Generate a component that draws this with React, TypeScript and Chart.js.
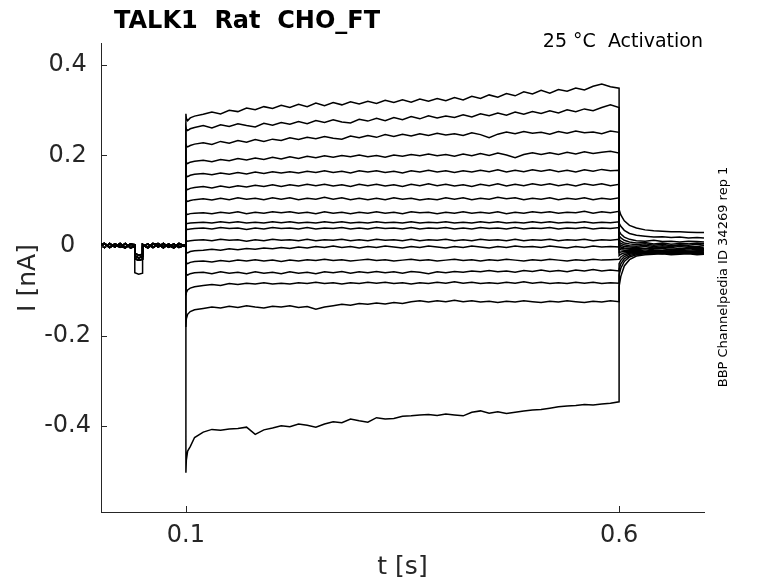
import { useEffect, useRef } from 'react';
import { Chart, registerables } from 'chart.js';

Chart.register(...registerables);

// ---- axis ticks ----
const xTickValues = [0.1, 0.6];
const xTickLabels = ['0.1', '0.6'];
const yTickValues = [-0.4, -0.2, 0, 0.2, 0.4];
const yTickLabels = ['-0.4', '-0.2', '0', '0.2', '0.4'];

// ---- time bases (s) ----
const preTimes = [0, 0.006, 0.012, 0.018, 0.024, 0.03, 0.036, 0.041, 0.041, 0.0455, 0.05, 0.05, 0.056, 0.062, 0.068, 0.074, 0.08, 0.086, 0.092, 0.1];
const stepTimes = [0.1, 0.1005, 0.102, 0.105, 0.11,
  0.12, 0.13, 0.14, 0.15, 0.16, 0.17, 0.18, 0.19, 0.2, 0.21,
  0.22, 0.23, 0.24, 0.25, 0.26, 0.27, 0.28, 0.29, 0.3, 0.31,
  0.32, 0.33, 0.34, 0.35, 0.36, 0.37, 0.38, 0.39, 0.4, 0.41,
  0.42, 0.43, 0.44, 0.45, 0.46, 0.47, 0.48, 0.49, 0.5, 0.51,
  0.52, 0.53, 0.54, 0.55, 0.56, 0.57, 0.58, 0.59, 0.6];
const tailTimes = [0.6, 0.602, 0.606, 0.612, 0.62, 0.63, 0.64, 0.65, 0.66, 0.67, 0.68, 0.69, 0.698];

// ---- holding period currents (nA), incl. test pulse ----
const preA = [0.004, -0.004, 0.005, -0.003, 0.005, -0.004, 0.003, 0.002, -0.022, -0.027, -0.024, 0.003, -0.004, 0.005, -0.003, 0.005, -0.003, 0.004, -0.004, 0.002];
const preB = [-0.003, 0.004, -0.004, 0.003, -0.003, 0.005, -0.005, -0.002, -0.029, -0.032, -0.03, -0.003, 0.004, -0.004, 0.003, -0.005, 0.004, -0.003, 0.005, -0.002];
const preC = [0.002, 0.005, -0.003, 0.004, -0.001, -0.005, 0.004, 0.0, -0.017, -0.021, -0.019, 0.002, -0.005, 0.003, 0.005, -0.002, 0.001, -0.005, 0.003, 0.0];
const preD = [0.0, -0.003, 0.003, 0.001, -0.004, 0.003, -0.001, -0.002, -0.06, -0.063, -0.061, -0.001, 0.003, -0.003, 0.001, 0.003, -0.004, 0.002, -0.001, -0.002];

// ---- step currents (nA) ----
const step1 = [0.292, 0.282, 0.277, 0.283, 0.287,
  0.291, 0.296, 0.292, 0.3, 0.297, 0.305, 0.301, 0.308, 0.304, 0.311,
  0.306, 0.313, 0.308, 0.316, 0.31, 0.317, 0.312, 0.319, 0.314, 0.32,
  0.315, 0.322, 0.317, 0.323, 0.318, 0.325, 0.32, 0.326, 0.321, 0.328,
  0.323, 0.331, 0.326, 0.334, 0.329, 0.337, 0.332, 0.341, 0.336, 0.344,
  0.338, 0.346, 0.342, 0.349, 0.345, 0.353, 0.358, 0.352, 0.349];
const step2 = [0.262, 0.258, 0.255, 0.259, 0.262,
  0.266, 0.261, 0.268, 0.264, 0.27, 0.266, 0.263, 0.271, 0.267, 0.273,
  0.269, 0.275, 0.27, 0.277, 0.273, 0.279, 0.274, 0.272, 0.28, 0.276,
  0.282, 0.277, 0.284, 0.279, 0.286, 0.281, 0.288, 0.283, 0.287, 0.284,
  0.29, 0.285, 0.292, 0.288, 0.294, 0.289, 0.296, 0.291, 0.297, 0.293,
  0.299, 0.294, 0.301, 0.297, 0.303, 0.299, 0.306, 0.312, 0.306];
const step3 = [0.226, 0.221, 0.219, 0.222, 0.225,
  0.228, 0.224, 0.231, 0.227, 0.233, 0.229, 0.235, 0.231, 0.236, 0.233,
  0.239, 0.235, 0.24, 0.237, 0.242, 0.238, 0.236, 0.243, 0.239, 0.244,
  0.24, 0.246, 0.242, 0.247, 0.243, 0.248, 0.244, 0.249, 0.245, 0.248,
  0.244, 0.25, 0.246, 0.239, 0.247, 0.252, 0.248, 0.253, 0.249, 0.251,
  0.247, 0.253, 0.249, 0.254, 0.25, 0.252, 0.248, 0.254, 0.251];
const step4 = [0.188, 0.184, 0.182, 0.185, 0.187,
  0.189, 0.186, 0.191, 0.188, 0.193, 0.19, 0.194, 0.191, 0.196, 0.192,
  0.197, 0.193, 0.198, 0.195, 0.199, 0.196, 0.2, 0.197, 0.201, 0.197,
  0.2, 0.196, 0.201, 0.198, 0.202, 0.199, 0.203, 0.199, 0.202, 0.198,
  0.203, 0.199, 0.204, 0.2, 0.205, 0.201, 0.195, 0.202, 0.206, 0.202,
  0.206, 0.202, 0.207, 0.203, 0.208, 0.204, 0.207, 0.209, 0.205];
const step5 = [0.159, 0.155, 0.153, 0.156, 0.158,
  0.16, 0.157, 0.161, 0.158, 0.162, 0.159, 0.163, 0.16, 0.164, 0.161,
  0.164, 0.161, 0.165, 0.162, 0.166, 0.162, 0.165, 0.161, 0.166, 0.163,
  0.166, 0.162, 0.165, 0.161, 0.166, 0.163, 0.167, 0.163, 0.166, 0.162,
  0.166, 0.163, 0.167, 0.164, 0.168, 0.163, 0.167, 0.164, 0.168, 0.165,
  0.168, 0.164, 0.167, 0.163, 0.168, 0.165, 0.169, 0.166, 0.167];
const step6 = [0.13, 0.126, 0.124, 0.127, 0.129,
  0.131, 0.128, 0.132, 0.129, 0.133, 0.13, 0.134, 0.131, 0.135, 0.131,
  0.135, 0.132, 0.136, 0.133, 0.136, 0.132, 0.135, 0.131, 0.136, 0.133,
  0.136, 0.132, 0.135, 0.131, 0.136, 0.133, 0.137, 0.133, 0.136, 0.132,
  0.135, 0.131, 0.136, 0.133, 0.137, 0.132, 0.136, 0.133, 0.137, 0.134,
  0.137, 0.133, 0.136, 0.132, 0.137, 0.134, 0.137, 0.133, 0.136];
const step7 = [0.103, 0.1, 0.098, 0.1, 0.102,
  0.104, 0.101, 0.105, 0.102, 0.106, 0.103, 0.105, 0.102, 0.106, 0.103,
  0.106, 0.102, 0.105, 0.103, 0.107, 0.103, 0.106, 0.102, 0.105, 0.102,
  0.105, 0.102, 0.106, 0.103, 0.105, 0.101, 0.104, 0.102, 0.106, 0.103,
  0.106, 0.102, 0.105, 0.103, 0.107, 0.104, 0.106, 0.102, 0.105, 0.103,
  0.106, 0.102, 0.105, 0.103, 0.106, 0.102, 0.105, 0.103, 0.106];
const step8 = [0.074, 0.071, 0.069, 0.071, 0.072,
  0.073, 0.071, 0.074, 0.072, 0.075, 0.071, 0.074, 0.072, 0.075, 0.073,
  0.075, 0.072, 0.074, 0.071, 0.075, 0.072, 0.074, 0.071, 0.074, 0.072,
  0.075, 0.072, 0.074, 0.071, 0.075, 0.073, 0.074, 0.071, 0.074, 0.072,
  0.075, 0.072, 0.074, 0.072, 0.075, 0.071, 0.074, 0.072, 0.075, 0.073,
  0.075, 0.072, 0.074, 0.073, 0.076, 0.072, 0.075, 0.073, 0.076];
const step9 = [0.053, 0.05, 0.049, 0.05, 0.051,
  0.052, 0.05, 0.053, 0.051, 0.053, 0.05, 0.052, 0.05, 0.053, 0.051,
  0.053, 0.05, 0.052, 0.05, 0.053, 0.051, 0.053, 0.05, 0.052, 0.05,
  0.053, 0.051, 0.052, 0.05, 0.053, 0.05, 0.052, 0.051, 0.053, 0.05,
  0.052, 0.05, 0.053, 0.051, 0.053, 0.05, 0.052, 0.05, 0.053, 0.051,
  0.053, 0.05, 0.052, 0.051, 0.053, 0.05, 0.052, 0.051, 0.053];
const step10 = [0.04, 0.037, 0.036, 0.037, 0.038,
  0.039, 0.037, 0.04, 0.038, 0.039, 0.036, 0.039, 0.037, 0.04, 0.038,
  0.039, 0.037, 0.04, 0.037, 0.039, 0.038, 0.04, 0.037, 0.039, 0.037,
  0.04, 0.038, 0.039, 0.037, 0.04, 0.037, 0.039, 0.038, 0.04, 0.037,
  0.039, 0.037, 0.04, 0.038, 0.039, 0.037, 0.04, 0.037, 0.039, 0.038,
  0.04, 0.037, 0.039, 0.038, 0.04, 0.037, 0.039, 0.038, 0.04];
const step11 = [0.014, 0.011, 0.01, 0.011, 0.012,
  0.013, 0.011, 0.014, 0.012, 0.013, 0.01, 0.013, 0.011, 0.014, 0.012,
  0.013, 0.011, 0.014, 0.011, 0.013, 0.012, 0.014, 0.011, 0.013, 0.011,
  0.014, 0.012, 0.013, 0.011, 0.014, 0.011, 0.013, 0.012, 0.014, 0.011,
  0.013, 0.011, 0.014, 0.012, 0.013, 0.011, 0.014, 0.011, 0.013, 0.012,
  0.014, 0.011, 0.013, 0.012, 0.014, 0.011, 0.013, 0.012, 0.014];
const step12 = [-0.01, -0.014, -0.016, -0.013, -0.011,
  -0.01, -0.008, -0.01, -0.007, -0.009, -0.006, -0.008, -0.005, -0.007, -0.004,
  -0.006, -0.003, -0.005, -0.002, -0.004, -0.001, -0.004, -0.002, -0.005, -0.002,
  -0.004, -0.001, -0.003, -0.005, -0.002, -0.004, -0.001, -0.003, -0.005, -0.002,
  -0.004, -0.001, -0.003, -0.005, -0.002, -0.004, -0.001, -0.003, -0.002, -0.004,
  -0.001, -0.003, -0.005, -0.002, -0.004, -0.001, -0.003, -0.002, -0.003];
const step13 = [-0.034, -0.038, -0.04, -0.037, -0.035,
  -0.034, -0.036, -0.033, -0.035, -0.032, -0.034, -0.031, -0.034, -0.032, -0.035,
  -0.032, -0.034, -0.031, -0.033, -0.03, -0.033, -0.031, -0.034, -0.032, -0.03,
  -0.033, -0.031, -0.034, -0.032, -0.03, -0.033, -0.031, -0.034, -0.032, -0.03,
  -0.033, -0.031, -0.034, -0.031, -0.033, -0.03, -0.032, -0.034, -0.031, -0.033,
  -0.03, -0.032, -0.034, -0.031, -0.033, -0.03, -0.032, -0.031, -0.03];
const step14 = [-0.058, -0.063, -0.065, -0.062, -0.06,
  -0.059, -0.062, -0.058, -0.061, -0.059, -0.062, -0.058, -0.061, -0.059, -0.062,
  -0.058, -0.061, -0.059, -0.062, -0.058, -0.06, -0.057, -0.061, -0.058, -0.06,
  -0.057, -0.06, -0.058, -0.061, -0.057, -0.059, -0.062, -0.058, -0.06, -0.057,
  -0.059, -0.056, -0.058, -0.055, -0.058, -0.056, -0.059, -0.055, -0.057, -0.054,
  -0.057, -0.055, -0.058, -0.054, -0.056, -0.053, -0.056, -0.054, -0.056];
const step15 = [-0.11, -0.104, -0.098, -0.094, -0.091,
  -0.088, -0.086, -0.088, -0.084, -0.086, -0.083, -0.085, -0.082, -0.085, -0.083,
  -0.085, -0.082, -0.084, -0.081, -0.084, -0.082, -0.085, -0.082, -0.084, -0.081,
  -0.083, -0.081, -0.084, -0.082, -0.085, -0.082, -0.084, -0.081, -0.083, -0.08,
  -0.083, -0.081, -0.084, -0.082, -0.084, -0.081, -0.083, -0.08, -0.083, -0.081,
  -0.084, -0.082, -0.084, -0.081, -0.083, -0.081, -0.084, -0.082, -0.083];
const step16 = [-0.18, -0.162, -0.152, -0.146, -0.142,
  -0.139, -0.136, -0.138, -0.134, -0.137, -0.133, -0.136, -0.138, -0.134, -0.136,
  -0.133, -0.137, -0.135, -0.141, -0.136, -0.133, -0.13, -0.132, -0.128, -0.13,
  -0.127, -0.129, -0.126, -0.128, -0.124, -0.122, -0.125, -0.122, -0.124, -0.121,
  -0.124, -0.122, -0.125, -0.123, -0.126, -0.123, -0.125, -0.122, -0.124, -0.126,
  -0.123, -0.125, -0.122, -0.124, -0.126, -0.123, -0.125, -0.122, -0.124];
const step17 = [-0.503, -0.475, -0.455, -0.445, -0.425,
  -0.413, -0.407, -0.409, -0.406, -0.405, -0.402, -0.418, -0.408, -0.404, -0.399,
  -0.401, -0.395, -0.398, -0.402, -0.395, -0.39, -0.392, -0.384, -0.388, -0.391,
  -0.381, -0.384, -0.383, -0.378, -0.377, -0.375, -0.374, -0.376, -0.373, -0.375,
  -0.377, -0.369, -0.366, -0.371, -0.368, -0.372, -0.369, -0.366, -0.364, -0.363,
  -0.36, -0.357, -0.355, -0.354, -0.352, -0.353, -0.351, -0.349, -0.346];

// ---- tail currents (nA) ----
const tail1 = [0.08, 0.068, 0.055, 0.045, 0.039, 0.035, 0.033, 0.032, 0.031, 0.031, 0.03, 0.029, 0.029];
const tail2 = [0.05, 0.043, 0.034, 0.027, 0.023, 0.021, 0.019, 0.02, 0.018, 0.019, 0.017, 0.018, 0.017];
const tail3 = [0.032, 0.026, 0.019, 0.014, 0.011, 0.01, 0.012, 0.009, 0.01, 0.008, 0.01, 0.009, 0.008];
const tail4 = [0.022, 0.017, 0.012, 0.008, 0.006, 0.007, 0.004, 0.006, 0.003, 0.005, 0.004, 0.006, 0.004];
const tail5 = [0.014, 0.01, 0.006, 0.004, 0.002, 0.004, 0.001, 0.003, 0.0, 0.002, 0.001, 0.003, 0.001];
const tail6 = [0.008, 0.005, 0.002, 0.0, -0.001, 0.001, -0.002, 0.0, -0.002, 0.001, -0.001, -0.002, 0.0];
const tail7 = [0.004, 0.001, -0.002, -0.003, -0.004, -0.002, -0.005, -0.003, -0.004, -0.002, -0.004, -0.003, -0.005];
const tail8 = [0.0, -0.003, -0.005, -0.006, -0.005, -0.007, -0.005, -0.006, -0.008, -0.006, -0.007, -0.005, -0.007];
const tail9 = [-0.004, -0.006, -0.007, -0.008, -0.009, -0.007, -0.009, -0.01, -0.008, -0.009, -0.007, -0.009, -0.008];
const tail10 = [-0.008, -0.009, -0.01, -0.011, -0.01, -0.012, -0.01, -0.011, -0.012, -0.01, -0.012, -0.011, -0.01];
const tail11 = [-0.015, -0.014, -0.013, -0.013, -0.012, -0.014, -0.012, -0.013, -0.011, -0.013, -0.012, -0.014, -0.012];
const tail12 = [-0.022, -0.019, -0.016, -0.015, -0.014, -0.013, -0.015, -0.013, -0.014, -0.012, -0.014, -0.013, -0.015];
const tail13 = [-0.03, -0.025, -0.02, -0.017, -0.015, -0.016, -0.014, -0.016, -0.015, -0.013, -0.015, -0.016, -0.014];
const tail14 = [-0.04, -0.032, -0.024, -0.019, -0.017, -0.015, -0.017, -0.016, -0.014, -0.016, -0.015, -0.017, -0.016];
const tail15 = [-0.052, -0.04, -0.029, -0.022, -0.018, -0.017, -0.016, -0.018, -0.016, -0.015, -0.017, -0.016, -0.018];
const tail16 = [-0.065, -0.05, -0.035, -0.025, -0.02, -0.018, -0.017, -0.016, -0.018, -0.017, -0.016, -0.018, -0.017];
const tail17 = [-0.09, -0.068, -0.045, -0.031, -0.023, -0.02, -0.019, -0.018, -0.02, -0.019, -0.018, -0.02, -0.019];

const FONT = "'DejaVu Sans', 'Liberation Sans', sans-serif";
const AXIS_COLOR = '#262626';

export default function App() {
  const ref = useRef<HTMLCanvasElement>(null);

  useEffect(() => {
    if (!ref.current) return;
    const sweeps = [
      { pre: preA, step: step1, tail: tail1 },
      { pre: preB, step: step2, tail: tail2 },
      { pre: preC, step: step3, tail: tail3 },
      { pre: preA, step: step4, tail: tail4 },
      { pre: preB, step: step5, tail: tail5 },
      { pre: preC, step: step6, tail: tail6 },
      { pre: preA, step: step7, tail: tail7 },
      { pre: preB, step: step8, tail: tail8 },
      { pre: preC, step: step9, tail: tail9 },
      { pre: preA, step: step10, tail: tail10 },
      { pre: preB, step: step11, tail: tail11 },
      { pre: preC, step: step12, tail: tail12 },
      { pre: preA, step: step13, tail: tail13 },
      { pre: preB, step: step14, tail: tail14 },
      { pre: preC, step: step15, tail: tail15 },
      { pre: preA, step: step16, tail: tail16 },
      { pre: preD, step: step17, tail: tail17 },
    ];
    const join = (ts: number[], vs: number[]) => {
      const n = Math.min(ts.length, vs.length);
      const out: { x: number; y: number }[] = [];
      for (let i = 0; i < n; i++) out.push({ x: ts[i], y: vs[i] });
      return out;
    };
    const datasets = sweeps.map((s) => ({
      data: [...join(preTimes, s.pre), ...join(stepTimes, s.step), ...join(tailTimes, s.tail)],
      borderColor: '#000000',
      borderWidth: 1.5,
      pointRadius: 0,
      fill: false,
      tension: 0,
    }));

    const decor = {
      id: 'decor',
      afterDraw(chart: any) {
        const ctx = chart.ctx as CanvasRenderingContext2D;
        const area = chart.chartArea;
        const xs = chart.scales.x;
        const ys = chart.scales.y;
        ctx.save();
        // inward tick marks
        ctx.strokeStyle = AXIS_COLOR;
        ctx.lineWidth = 1;
        ctx.beginPath();
        yTickValues.forEach((v) => {
          const y = Math.round(ys.getPixelForValue(v)) + 0.5;
          ctx.moveTo(area.left, y);
          ctx.lineTo(area.left + 6, y);
        });
        xTickValues.forEach((v) => {
          const x = Math.round(xs.getPixelForValue(v)) + 0.5;
          ctx.moveTo(x, area.bottom);
          ctx.lineTo(x, area.bottom - 6);
        });
        ctx.stroke();

        // title
        ctx.fillStyle = '#000000';
        ctx.textAlign = 'left';
        ctx.textBaseline = 'alphabetic';
        ctx.font = `bold 24px ${FONT}`;
        ctx.fillText('TALK1  Rat  CHO_FT', 114, 28);

        // condition
        ctx.font = `19px ${FONT}`;
        ctx.textAlign = 'right';
        ctx.fillText('25 °C  Activation', 703, 47);

        // axis titles
        ctx.fillStyle = AXIS_COLOR;
        ctx.font = `25px ${FONT}`;
        ctx.textAlign = 'center';
        ctx.textBaseline = 'middle';
        ctx.fillText('t [s]', (area.left + area.right) / 2, 567);
        ctx.save();
        ctx.translate(28, 278);
        ctx.rotate(-Math.PI / 2);
        ctx.fillText('I [nA]', 0, 0);
        ctx.restore();

        // side note
        ctx.fillStyle = '#000000';
        ctx.font = `13px ${FONT}`;
        ctx.save();
        ctx.translate(724, 277);
        ctx.rotate(-Math.PI / 2);
        ctx.fillText('BBP Channelpedia ID 34269 rep 1', 0, 0);
        ctx.restore();
        ctx.restore();
      },
    };

    const chart = new Chart(ref.current, {
      type: 'line',
      data: { datasets },
      plugins: [decor],
      options: {
        responsive: false,
        animation: false,
        devicePixelRatio: 1,
        events: [],
        layout: { padding: { left: 0, right: 74, top: 43, bottom: 0 } },
        plugins: { legend: { display: false }, tooltip: { enabled: false }, title: { display: false } },
        scales: {
          x: {
            type: 'linear',
            min: 0.002,
            max: 0.698,
            afterFit: (s: any) => { s.height = 71; },
            afterBuildTicks: (s: any) => { s.ticks = xTickValues.map((v) => ({ value: v })); },
            grid: { display: false, drawTicks: false },
            border: { display: true, color: AXIS_COLOR, width: 1 },
            ticks: {
              autoSkip: false,
              maxRotation: 0,
              padding: 9,
              color: AXIS_COLOR,
              font: { family: FONT, size: 24 },
              callback: (_v: any, i: number) => xTickLabels[i],
            },
          },
          y: {
            type: 'linear',
            min: -0.59,
            max: 0.449,
            afterFit: (s: any) => { s.width = 101; },
            afterBuildTicks: (s: any) => { s.ticks = yTickValues.map((v) => ({ value: v })); },
            grid: { display: false, drawTicks: false },
            border: { display: true, color: AXIS_COLOR, width: 1 },
            ticks: {
              autoSkip: false,
              padding: 10,
              crossAlign: 'center',
              color: AXIS_COLOR,
              font: { family: FONT, size: 24 },
              callback: (_v: any, i: number) => yTickLabels[i],
            },
          },
        },
      } as any,
    });
    return () => chart.destroy();
  }, []);

  return (
    <div style={{ position: 'absolute', left: 0, top: 0, width: 778, height: 583, background: '#ffffff' }}>
      <canvas ref={ref} width={778} height={583} style={{ width: 778, height: 583, display: 'block' }} />
    </div>
  );
}
